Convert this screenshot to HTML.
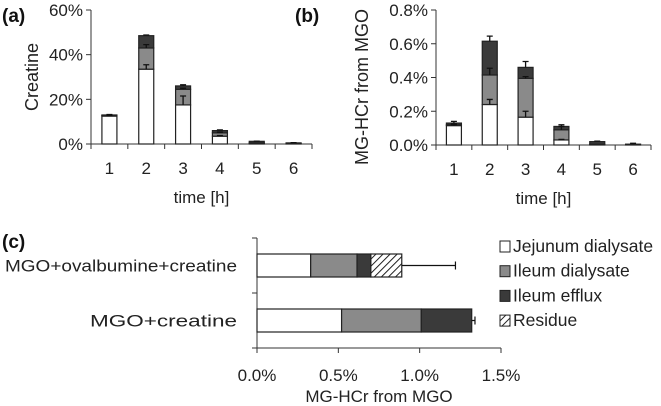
<!DOCTYPE html>
<html><head><meta charset="utf-8"><style>
body{margin:0;background:#fff}
svg{display:block;font-family:"Liberation Sans","DejaVu Sans",sans-serif}
</style></head><body>
<svg id="fig" width="661" height="406" viewBox="0 0 661 406">
<defs><pattern id="hatch" width="5" height="5" patternUnits="userSpaceOnUse" patternTransform="rotate(45)"><rect width="5" height="5" fill="#fff"/><line x1="0" y1="0" x2="0" y2="5" stroke="#222" stroke-width="2"/></pattern></defs>
<g id="ga"></g>
<g id="gb"></g>
<g id="gc"></g>
</svg>
<script>
const cats=["1","2","3","4","5","6"];
const aJej=[12.5,33.5,17.5,3.5,0.2,0];
const aIleum=[12.8,43,24.5,5,0.5,0.2];
const aEff=[13,48.5,26,6,1.2,0.5];
const aErrJ=[0.3,2,4,0.3,0,0];
const aErrI=[0,1.5,0.5,0.3,0,0];
const aErrE=[0.2,0.3,0.5,0.3,0.1,0.1];
const aTicks=[0,20,40,60];
const bJej=[0.115,0.24,0.165,0.03,0,0];
const bIleum=[0.12,0.415,0.395,0.09,0.005,0];
const bEff=[0.13,0.615,0.46,0.11,0.02,0.005];
const bErrJ=[0.005,0.03,0.035,0.003,0,0];
const bErrI=[0.005,0.04,0.01,0.02,0,0];
const bErrE=[0.01,0.03,0.035,0.01,0.003,0.005];
const bTicks=[0,0.2,0.4,0.6,0.8];
const cCats=["MGO+ovalbumine+creatine","MGO+creatine"];
const cJej=[0.33,0.52];
const cIleum=[0.615,1.01];
const cEff=[0.70,1.32];
const cRes=[0.89,1.32];
const cErr=[1.22,1.34];
const cTicks=[0,0.5,1.0,1.5];
const NS="http://www.w3.org/2000/svg";
function el(p,t,a,txt){const e=document.createElementNS(NS,t);for(const k in a)e.setAttribute(k,a[k]);if(txt!==undefined)e.textContent=txt;p.appendChild(e);return e;}
const fills=["#fff","#8a8a8a","#3a3a3a"];
function vpanel(g,x0,x1,y0,y1,max,ticks,fmt,J,I,E,errs,ylab,lab){
 const y=v=>y0-(v/max)*(y0-y1);const step=(x1-x0)/cats.length;
 el(g,"line",{x1:x0,y1:y1,x2:x0,y2:y0,stroke:"#333"});
 el(g,"line",{x1:x0,y1:y0,x2:x1,y2:y0,stroke:"#333"});
 ticks.forEach(t=>{el(g,"line",{x1:x0-5,y1:y(t),x2:x0,y2:y(t),stroke:"#333"});
  const tx=el(g,"text",{x:x0-8,y:y(t)+6,"text-anchor":"end","font-size":17,fill:"#222"},fmt(t));
  });
 for(let i=0;i<=cats.length;i++)el(g,"line",{x1:x0+i*step,y1:y0,x2:x0+i*step,y2:y0+5,stroke:"#333"});
 cats.forEach((c,i)=>{const cx=x0+(i+0.5)*step,w=15;const segs=[[0,J[i]],[J[i],I[i]],[I[i],E[i]]];
  segs.forEach((s,k)=>{if(s[1]<=s[0])return;const r=el(g,"rect",{x:cx-w/2,y:y(s[1]),width:w,height:y(s[0])-y(s[1]),fill:fills[k],stroke:"#222","stroke-width":1.2});
   });
  errs.forEach((er,k)=>{const top=[J,I,E][k][i];if(!er[i])return;el(g,"path",{d:`M${cx} ${y(top)}V${y(top+er[i])}M${cx-3} ${y(top+er[i])}H${cx+3}`,stroke:"#111","stroke-width":1.3,fill:"none"});});
  const t=el(g,"text",{x:cx,y:y0+30,"text-anchor":"middle","font-size":17,fill:"#222"},c);
  });
 const xt=el(g,"text",{x:(x0+x1)/2,y:y0+59,"text-anchor":"middle","font-size":17,fill:"#222"},"time [h]");
 
 const yt=el(g,"text",{x:0,y:0,transform:`translate(${lab[1]},${lab[3]}) rotate(-90)`,"text-anchor":"middle","font-size":18,fill:"#222"},ylab);
 
 const pl=el(g,"text",{x:lab[0],y:22,"font-size":19,"font-weight":"bold",fill:"#111"},lab[2]);
 
}
vpanel(document.getElementById("ga"),91,312,144,10,60,aTicks,t=>t+"%",aJej,aIleum,aEff,[aErrJ,aErrI,aErrE],"Creatine",[2,38,"(a)",77]);
vpanel(document.getElementById("gb"),436,651,145,10,0.8,bTicks,t=>t.toFixed(1)+"%",bJej,bIleum,bEff,[bErrJ,bErrI,bErrE],"MG-HCr from MGO",[295,368,"(b)",87]);
// panel c
const gc=document.getElementById("gc");
const cx0=257,cx1=501,cy0=348,cy1=238;const X=v=>cx0+v/1.5*(cx1-cx0);
el(gc,"line",{x1:cx0,y1:cy1,x2:cx0,y2:cy0,stroke:"#333"});
el(gc,"line",{x1:cx0,y1:cy0,x2:cx1,y2:cy0,stroke:"#333"});
[cy1,(cy0+cy1)/2,cy0].forEach(yy=>el(gc,"line",{x1:cx0-5,y1:yy,x2:cx0,y2:yy,stroke:"#333"}));
cTicks.forEach(t=>{el(gc,"line",{x1:X(t),y1:cy0,x2:X(t),y2:cy0+5,stroke:"#333"});
 const tx=el(gc,"text",{x:X(t),y:381,"text-anchor":"middle","font-size":17,fill:"#222"},t.toFixed(1)+"%");
 });
const xt=el(gc,"text",{x:X(0.75),y:402,"text-anchor":"middle","font-size":17,fill:"#222"},"MG-HCr from MGO");

const cf=["#fff","#8a8a8a","#3a3a3a","url(#hatch)"];
const labW=[232,147];
cCats.forEach((c,i)=>{const band=(cy0-cy1)/2,yc=cy1+band*(i+0.5),h=23;
 const vals=[0,cJej[i],cIleum[i],cEff[i],cRes[i]];
 for(let k=0;k<4;k++){if(vals[k+1]<=vals[k])continue;const r=el(gc,"rect",{x:X(vals[k]),y:yc-h/2,width:X(vals[k+1])-X(vals[k]),height:h,fill:cf[k],stroke:"#222","stroke-width":1.2});
  }
 const e=cErr[i],top=cRes[i];el(gc,"path",{d:`M${X(top)} ${yc}H${X(e)}M${X(e)} ${yc-4}V${yc+4}`,stroke:"#111","stroke-width":1.2,fill:"none"});
 const t=el(gc,"text",{x:237,y:yc+6,"text-anchor":"end","font-size":17,fill:"#222",textLength:labW[i],lengthAdjust:"spacingAndGlyphs"},c);
 });
const pl=el(gc,"text",{x:2,y:248,"font-size":19,"font-weight":"bold",fill:"#111"},"(c)");

["Jejunum dialysate","Ileum dialysate","Ileum efflux","Residue"].forEach((n,k)=>{const yy=246+k*24.7;
 const g=el(gc,"g",{});
 el(g,"rect",{x:500,y:yy-5,width:10,height:11,fill:cf[k],stroke:"#222","stroke-width":1});
 el(g,"text",{x:513,y:yy+6,"font-size":17.5,fill:"#222"},n);});
</script>
</body></html>
